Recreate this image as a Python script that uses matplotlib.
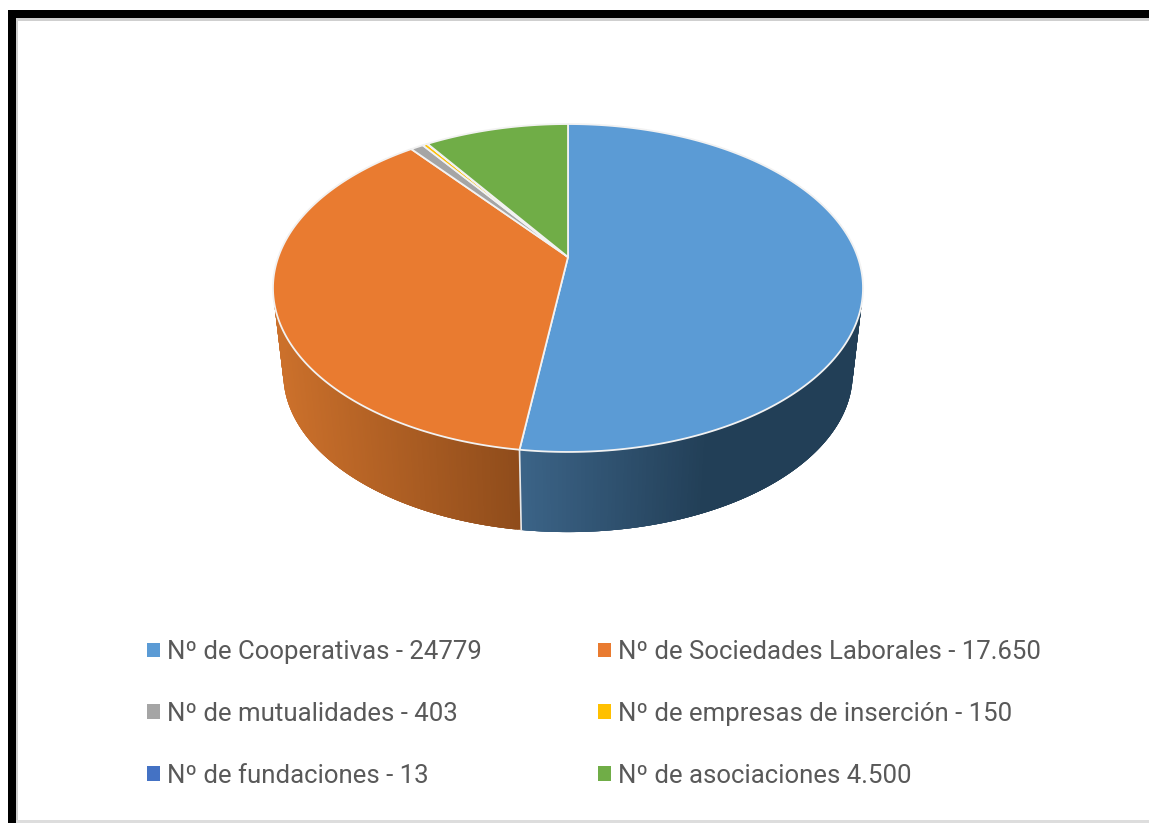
import numpy as np
import matplotlib
matplotlib.use('Agg')
import matplotlib.pyplot as plt
from matplotlib.patches import Polygon, Rectangle
from matplotlib.colors import to_rgb

# data
labels = ['Nº de Cooperativas - 24779', 'Nº de Sociedades Laborales - 17.650',
          'Nº de mutualidades - 403', 'Nº de empresas de inserción - 150',
          'Nº de fundaciones - 13', 'Nº de asociaciones 4.500']
values = [24779, 17650, 403, 150, 13, 4500]
colors = ['#5B9BD5', '#E97B30', '#A5A5A5', '#FFC000', '#4472C4', '#70AD47']

# perspective of the disc, in pixels
cx, apex_y = 568, 257
a, b, k = 289.7, 158.1, 0.189
bottom_apex_y, bottom_scale = 344, 0.965

# side shading: left and right colour, x where the right colour is reached
side_shade = {0: ('#3C6488', '#223F57', 520, 710),
              1: ('#CB702B', '#8F4C1B', 280, 520)}


def project(theta, apex=apex_y, scale=1.0):
    # theta clockwise from the top of the disc
    u, v = np.sin(theta), np.cos(theta)
    w = 1 + k * v
    return cx + scale * a * u / w, apex - scale * b * v / w


fig = plt.figure(figsize=(11.49, 8.23), dpi=100)
ax = fig.add_axes([0, 0, 1, 1])
ax.set_xlim(0, 1149)
ax.set_ylim(823, 0)
ax.axis('off')

# frame of the screenshot
ax.add_patch(Rectangle((16, 18), 1133, 3, color='#CFCFCF', lw=0))
ax.add_patch(Rectangle((16, 18), 1.5, 805, color='#CFCFCF', lw=0))
ax.add_patch(Rectangle((16, 820), 1133, 3, color='#DDDDDD', lw=0))
ax.add_patch(Rectangle((8, 10), 1141, 8, color='black', lw=0))
ax.add_patch(Rectangle((8, 10), 8, 813, color='black', lw=0))

angles = np.cumsum([0] + values) / sum(values) * 2 * np.pi

# side wall first, the top disc goes over it
# each strip overlaps the next ones so no seams show between them
for i, color in side_shade.items():
    c0, c1 = np.array(to_rgb(color[0])), np.array(to_rgb(color[1]))
    ts = np.linspace(angles[i], angles[i + 1], 300)
    for j in range(len(ts) - 1):
        t0, t1 = ts[j], ts[min(j + 4, len(ts) - 1)]
        x0, y0 = project(t0)
        x1, y1 = project(t1)
        x2, y2 = project(t1, bottom_apex_y, bottom_scale)
        x3, y3 = project(t0, bottom_apex_y, bottom_scale)
        f = np.clip((x0 - color[2]) / (color[3] - color[2]), 0, 1)
        c = c0 + (c1 - c0) * f
        ax.add_patch(Polygon([(x0, y0), (x1, y1), (x2, y2), (x3, y3)],
                             closed=True, fc=c, ec='none', lw=0, zorder=2))

# light seam where the two walls meet
xs, ys = project(angles[1])
xe, ye = project(angles[1], bottom_apex_y, bottom_scale)
ax.plot([xs, xe], [ys, ye], color='#E8E8E8', lw=1.2, zorder=3)

# top disc
for i, color in enumerate(colors):
    ts = np.linspace(angles[i], angles[i + 1], 200)
    xr, yr = project(ts)
    pts = [(cx, apex_y)] + list(zip(xr, yr))
    ax.add_patch(Polygon(pts, closed=True, fc=color, ec='#F2F2F2', lw=1.3,
                         joinstyle='round', zorder=4))

# legend reads by rows, matplotlib fills by columns
order = [0, 2, 4, 1, 3, 5]
handles = [Rectangle((0, 0), 1, 1, color=colors[i], lw=0) for i in order]
leg = ax.legend(handles, [labels[i] for i in order], ncol=2, loc='upper left',
                bbox_to_anchor=(147, 640), bbox_transform=ax.transData,
                frameon=False, borderpad=0, borderaxespad=0,
                prop={'family': 'Roboto', 'size': 18.5},
                labelcolor='#595959', handlelength=0.5, handleheight=0.5,
                handletextpad=0.28, labelspacing=1.47, columnspacing=4.52)

fig.savefig('out.png', dpi=100, facecolor='white')
